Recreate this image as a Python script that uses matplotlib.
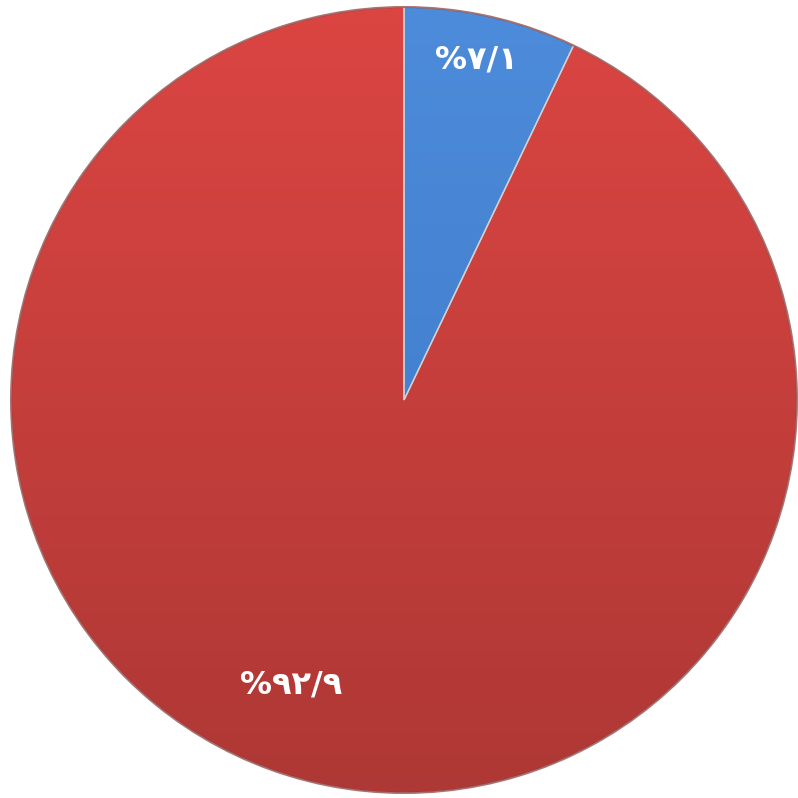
import numpy as np
import matplotlib
matplotlib.use("Agg")
import matplotlib.pyplot as plt
from matplotlib.colors import LinearSegmentedColormap
from matplotlib.patches import Circle

# data
categories = ["A", "B"]
values = [7.1, 92.9]
labels = ["%۷/۱", "%۹۲/۹"]
top_colors = ["#4D8CDA", "#DB4542"]
bottom_colors = ["#3B76C6", "#AE3835"]

W = 798
fig = plt.figure(figsize=(W / 100, W / 100), dpi=100)
ax = fig.add_axes([0, 0, 1, 1])

cx, cy, r = 404, 398, 393
wedges, _ = ax.pie(values, startangle=90, counterclock=False, center=(cx, cy),
                   radius=r, frame=True,
                   wedgeprops=dict(edgecolor="#D0D0D0", linewidth=1.0))
ax.set_xlim(0, W)
ax.set_ylim(0, W)
ax.set_aspect("equal")
ax.axis("off")

grad = np.linspace(1, 0, 256).reshape(-1, 1)
for w, tc, bc in zip(wedges, top_colors, bottom_colors):
    cmap = LinearSegmentedColormap.from_list("g", [bc, tc])
    im = ax.imshow(grad, cmap=cmap, extent=(cx - r, cx + r, cy - r, cy + r),
                   origin="upper", aspect="auto", zorder=w.get_zorder() + 0.1,
                   vmin=0, vmax=1)
    im.set_clip_path(w)
    w.set_facecolor("none")
    w.set_zorder(w.get_zorder() + 0.2)

rim = Circle((cx, cy), r, facecolor="none", edgecolor="#7F2422", alpha=0.55,
             linewidth=1.5, zorder=5)
ax.add_patch(rim)

label_pos = [(0.885, 78.0), (0.78, -111.6)]
for lab, (d, ang) in zip(labels, label_pos):
    a = np.deg2rad(ang)
    ax.text(cx + d * r * np.cos(a), cy + d * r * np.sin(a), lab,
            ha="center", va="center", color="white", fontsize=23,
            fontweight="bold", family=["DejaVu Sans"], zorder=10)

fig.savefig("out.png", dpi=100, facecolor="white")
